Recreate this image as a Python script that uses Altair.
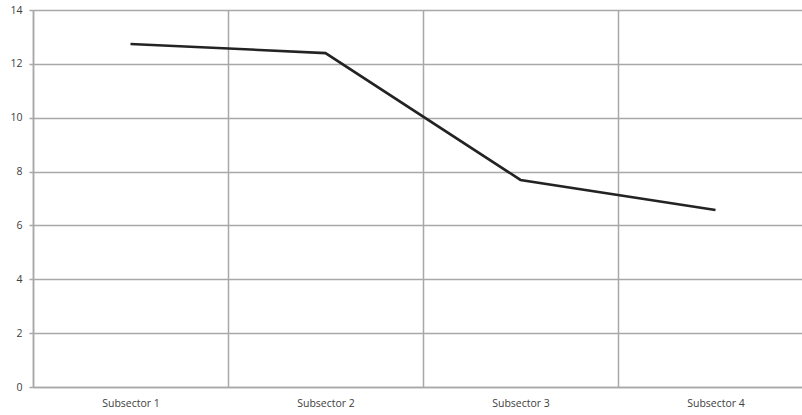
import altair as alt
import pandas as pd

# Category labels and the value plotted for each subsector
subsectors = ["Subsector 1", "Subsector 2", "Subsector 3", "Subsector 4"]
values = [12.74, 12.40, 7.69, 6.57]

df = pd.DataFrame({"subsector": subsectors, "value": values})

grid_color = "#a8a8a8"
label_color = "#404040"
font = "Open Sans"

chart = (
    alt.Chart(df)
    .mark_line(color="#232323", strokeWidth=2.6, clip=False)
    .encode(
        x=alt.X(
            "subsector:N",
            sort=subsectors,
            scale=alt.Scale(range=[0, 780], paddingInner=0, paddingOuter=0),
            axis=alt.Axis(
                title=None,
                labelAngle=0,
                ticks=False,
                tickBand="extent",
                grid=True,
                gridColor=grid_color,
                gridWidth=1.5,
                domainColor=grid_color,
                domainWidth=1.5,
                labelFont=font,
                labelFontSize=10.5,
                labelColor=label_color,
                labelPadding=11,
            ),
        ),
        y=alt.Y(
            "value:Q",
            scale=alt.Scale(domain=[0, 14], nice=False),
            axis=alt.Axis(
                title=None,
                values=[0, 2, 4, 6, 8, 10, 12, 14],
                grid=True,
                gridColor=grid_color,
                gridWidth=1.5,
                domainColor=grid_color,
                domainWidth=1.5,
                tickColor=grid_color,
                tickWidth=1.5,
                tickSize=4,
                labelFont=font,
                labelFontSize=10.5,
                labelColor=label_color,
                labelPadding=7,
            ),
        ),
    )
    .properties(
        width=769,
        height=377,
        autosize=alt.AutoSizeParams(type="none"),
        padding={"left": 33, "top": 10, "right": 0, "bottom": 28},
    )
    .configure_view(stroke=None)
    .configure(background="white")
)

chart.save("out.html", embed_options={"renderer": "svg", "actions": False})
